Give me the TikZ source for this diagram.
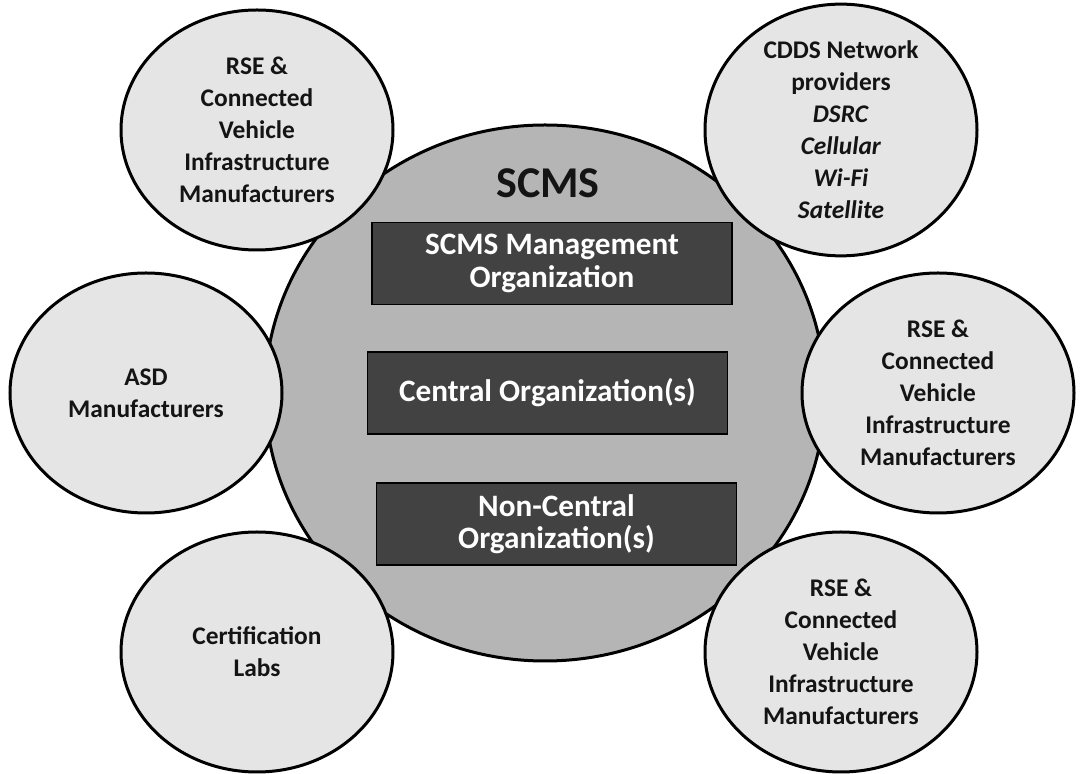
\documentclass[tikz,border=0pt]{standalone}
\usepackage{fontspec}
\setmainfont{Carlito}
\usetikzlibrary{shapes.geometric}

\definecolor{outerfill}{gray}{0.90}
\definecolor{scmsfill}{gray}{0.71}
\definecolor{boxfill}{gray}{0.26}
\definecolor{inktext}{gray}{0.08}

\begin{document}
\begin{tikzpicture}[
                x = 0.5pt, y = -0.5pt,
                ring/.style = {draw, ellipse, line width = 1.5pt, fill = scmsfill, minimum width = 280pt, minimum height = 268pt},
                member/.style = {draw, ellipse, line width = 1.5pt, fill = outerfill, minimum width = 136pt, minimum height = 120pt,
                                 inner sep = 0mm, align = center, text = inktext, font = \bfseries\fontsize{12.7}{16}\selectfont},
                org/.style = {draw, line width = 0.8pt, fill = boxfill, minimum width = 180pt, minimum height = 41pt,
                              inner sep = 0mm, align = center, text = white, font = \bfseries\fontsize{15.6}{16.2}\selectfont},
            ]
            \useasboundingbox (0,0) rectangle (1089,774);

            \node (scms) [ring] at (545, 393){};
            \node (title) [font = \bfseries\fontsize{22}{24}\selectfont, text = inktext] at (548, 183){SCMS};

            \node (mgmt) [org] at (552, 263.5){SCMS Management\\Organization};
            \node (central) [org] at (547.5, 393){Central Organization(s)};
            \node (noncentral) [org] at (556.5, 524){Non-Central\\Organization(s)};

            \node (rse1) [member] at (257, 130){RSE \&\\Connected\\Vehicle\\Infrastructure\\Manufacturers};
            \node (cdds) [member] at (841, 130){CDDS Network\\providers\\\textit{DSRC}\\\textit{Cellular}\\\textit{Wi-Fi}\\\textit{Satellite}};
            \node (asd) [member] at (146, 393){ASD\\Manufacturers};
            \node (rse2) [member] at (938, 393){RSE \&\\Connected\\Vehicle\\Infrastructure\\Manufacturers};
            \node (cert) [member] at (257, 652){Certification\\Labs};
            \node (rse3) [member] at (841, 652){RSE \&\\Connected\\Vehicle\\Infrastructure\\Manufacturers};
        \end{tikzpicture}
\end{document}
